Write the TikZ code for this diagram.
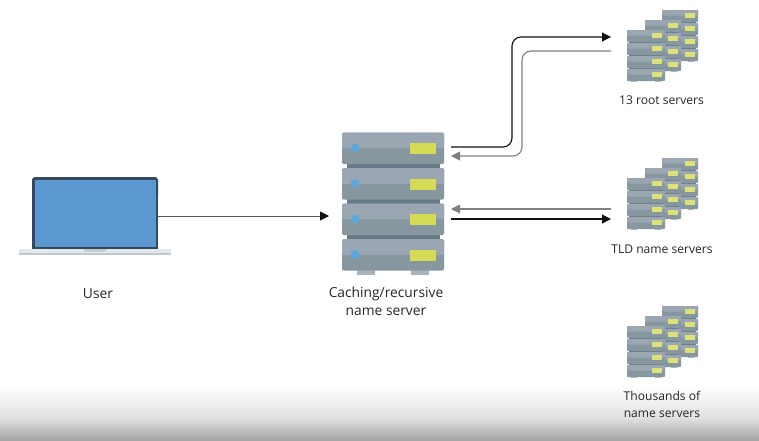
\documentclass[tikz,border=0pt]{standalone}
\usepackage{fontspec}
\setmainfont{Open Sans}
\usetikzlibrary{arrows.meta}
\definecolor{srvlight}{HTML}{9AA7B2}
\definecolor{srvdark}{HTML}{87979F}
\definecolor{srvstrip}{HTML}{667A87}
\definecolor{srvfoot}{HTML}{A9B3BB}
\definecolor{srvyellow}{HTML}{D5DB55}
\definecolor{srvdot}{HTML}{5AA9DC}
\definecolor{lapscreen}{HTML}{5B97D0}
\definecolor{lapframe}{HTML}{34495C}
\definecolor{lapbase}{HTML}{E3E8EC}
\definecolor{lapedge}{HTML}{C3C8CC}
\definecolor{fwd}{HTML}{111111}
\definecolor{back}{HTML}{808080}
\tikzset{
  x=1pt,y=-1pt,
  big label/.style={font=\fontsize{13.8}{18}\selectfont,align=center,text=black!85,inner sep=0pt},
  small label/.style={font=\fontsize{12.1}{16.5}\selectfont,align=center,text=black!85,inner sep=0pt},
  fwdline/.style={draw=fwd,line width=1.15pt,rounded corners=9pt,-{Triangle[length=9pt,width=9pt]}},
  backline/.style={draw=back,line width=1.1pt,rounded corners=9pt,-{Triangle[length=9pt,width=9pt]}},
  userline/.style={draw=black!65,line width=0.9pt,-{Triangle[length=9pt,width=9pt,color=fwd]}},
  anchorbox/.style={inner sep=0pt,outer sep=0pt,anchor=north west}
}
% big server unit: #1 = top y
\newcommand{\bigunit}[1]{%
  \fill[srvdark,rounded corners=1.5pt] (342,#1) rectangle ++(102,31.5);
  \fill[srvlight,rounded corners=1.5pt] (342,#1) rectangle ++(102,15.5);
  \fill[srvlight] (342,#1+8) rectangle ++(102,7.5);
  \fill[srvdot] (355,#1+15.5) circle (4.3);
  \fill[srvyellow] (410,#1+10.5) rectangle ++(26,11);
}
% small stack: #1 = left x, #2 = top y, #3 = width
\newcommand{\smallstack}[3]{%
  \foreach \k in {3,2,1,0}{%
    \pgfmathsetmacro{\yy}{#2+13*\k}%
    \fill[srvdark,rounded corners=0.8pt] (#1,\yy) rectangle ++(#3,12);
    \fill[srvlight,rounded corners=0.8pt] (#1,\yy) rectangle ++(#3,5.5);
    \fill[srvyellow!80!white] (#1+#3-13,\yy+3.3) rectangle ++(10,4.4);
    \ifnum\k<3 \fill[srvstrip!80!srvdark] (#1+2,\yy+12) rectangle ++(#3-4,1);\fi
  }
  \fill[srvfoot] (#1+4,#2+13*3+12) rectangle ++(6,1.3);
  \fill[srvfoot] (#1+#3-10,#2+13*3+12) rectangle ++(6,1.3);
}
\newcommand{\cluster}[1]{%
  \smallstack{662}{#1+10}{36}
  \smallstack{645}{#1+20}{36}
  \smallstack{627}{#1+30}{38}
}
\begin{document}
\begin{tikzpicture}
\useasboundingbox (0,0) rectangle (759,440);
\fill[white] (0,0) rectangle (759,440);
% bottom fade
\fill[top color=white,bottom color=black!12,draw=none] (0,386) rectangle (759,418);
\fill[top color=black!12,bottom color=black!35,draw=none] (0,418) rectangle (759,440);

% laptop
\fill[lapbase] (19,249) rectangle (171,253);
\fill[lapedge] (19,253) rectangle (171,255);
\fill[lapframe,rounded corners=3pt] (32,200) -- (32,177) -- (158,177) -- (158,200) -- cycle;
\fill[lapframe] (32,190) rectangle (158,249);
\fill[lapedge] (83,249) -- (107,249) -- (105,251.5) -- (85,251.5) -- cycle;
\fill[lapscreen] (34.5,179.5) rectangle (155.5,246.5);
\node[anchorbox,minimum width=126pt,minimum height=72pt] (user) at (32,177) {};

% big server
\fill[srvfoot] (357,270) rectangle (375,274.5);
\fill[srvfoot] (411,270) rectangle (429,274.5);
\fill[srvstrip] (347,163) rectangle (440,240);
\bigunit{132.5}
\bigunit{168}
\bigunit{203.5}
\bigunit{239}
\node[anchorbox,minimum width=102pt,minimum height=142pt] (cache) at (342,132.5) {};

% clusters
\cluster{0}
\cluster{148}
\cluster{296}
\node[anchorbox,minimum width=71pt,minimum height=73pt] (root) at (627,10) {};
\node[anchorbox,minimum width=71pt,minimum height=73pt] (tld) at (627,158) {};
\node[anchorbox,minimum width=71pt,minimum height=73pt] (auth) at (627,306) {};

% labels
\node[big label] (userlabel) at (98,293.5) {User};
\node[big label] (cachelabel) at (386,301) {Caching/recursive\\name server};
\node[small label] (rootlabel) at (661.5,100.5) {13 root servers};
\node[small label] (tldlabel) at (662,249.5) {TLD name servers};
\node[small label] (authlabel) at (662,404.5) {Thousands of\\name servers};

% connector ends
\coordinate (cacheA) at ([shift={(7,14.5)}]cache.north east);
\coordinate (cacheB) at ([shift={(7,23.5)}]cache.north east);
\coordinate (cacheC) at ([shift={(7,76.5)}]cache.north east);
\coordinate (cacheD) at ([shift={(7,86.5)}]cache.north east);
\coordinate (cacheU) at ([shift={(-13,83.5)}]cache.north west);
\coordinate (rootA) at ([shift={(-16,27)}]root.north west);
\coordinate (rootB) at ([shift={(-16,41)}]root.north west);
\coordinate (tldA) at ([shift={(-16,51)}]tld.north west);
\coordinate (tldB) at ([shift={(-16,61)}]tld.north west);

% connectors
\draw[userline] (user.east |- cacheU) -- (cacheU);
\draw[fwdline] (cacheA) -- (512,147) -- (512,37) -- (rootA);
\draw[backline] (rootB) -- (522,51) -- (522,156) -- (cacheB);
\draw[backline] (tldA) -- (cacheC);
\draw[fwdline] (cacheD) -- (tldB);
\end{tikzpicture}
\end{document}
